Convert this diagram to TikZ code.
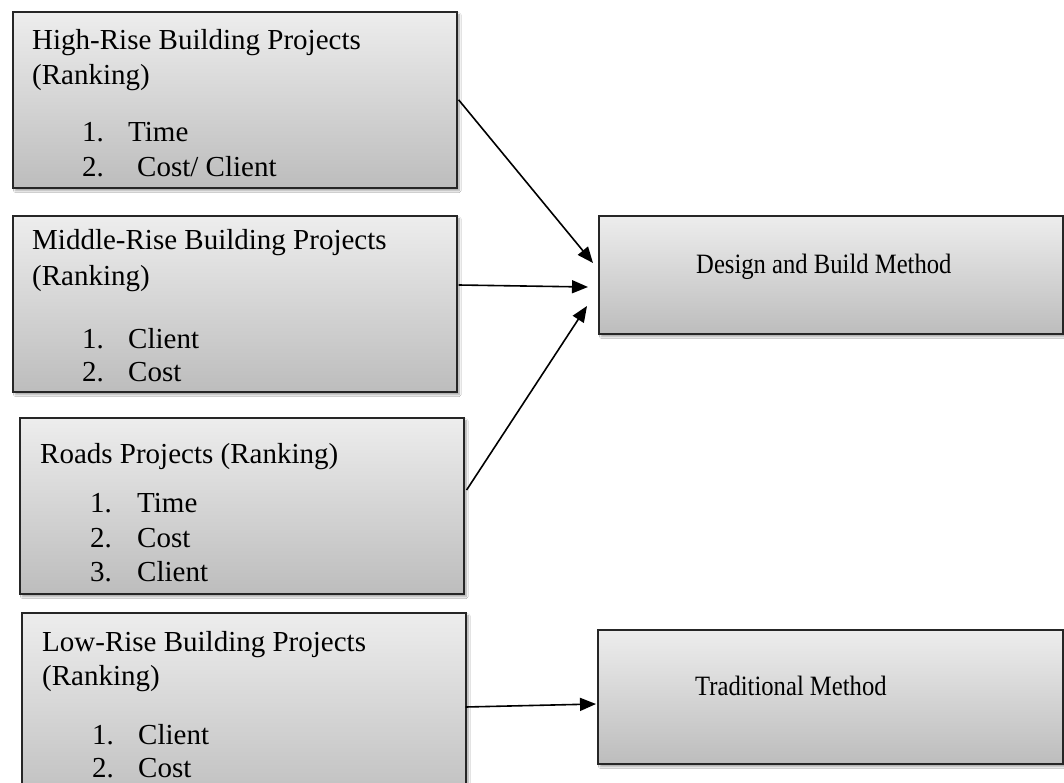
\documentclass[tikz,border=0pt]{standalone}
\usepackage{fontspec}
\setmainfont{Liberation Serif}
\usetikzlibrary{shadows.blur,arrows.meta,calc}
\tikzset{
  gbox/.style={draw=black!85, line width=1.6pt, rectangle, anchor=north west, inner sep=0pt,
    top color=black!7, bottom color=black!26,
    blur shadow={shadow xshift=2.5pt, shadow yshift=-3pt, shadow blur steps=6, shadow opacity=35}},
  txt/.style={anchor=base west, inner sep=0pt, font=\fontsize{29}{35}\selectfont},
  rtxt/.style={anchor=base west, inner sep=0pt, font=\fontsize{28}{34}\selectfont},
  arr/.style={line width=1.6pt, -{Triangle[length=16pt,width=13pt]}},
}
\begin{document}
\begin{tikzpicture}[x=1pt,y=-1pt]
\useasboundingbox (0,0) rectangle (1064,783);
\clip (0,0) rectangle (1064,783);
\fill[white] (0,0) rectangle (1064,783);
% boxes
\node[gbox, minimum width=444pt, minimum height=176pt] (b1) at (12,11) {};
\node[gbox, minimum width=444pt, minimum height=176pt] (b2) at (12,215) {};
\node[gbox, minimum width=444pt, minimum height=176pt] (b3) at (19,417) {};
\node[gbox, minimum width=444pt, minimum height=200pt] (b4) at (21,612) {};
\node[gbox, minimum width=464pt, minimum height=118pt] (d) at (598,215) {};
\node[gbox, minimum width=465pt, minimum height=134pt] (t) at (597,629) {};
% box 1 text
\node[txt] (b1a) at (32,50) {High-Rise Building Projects};
\node[txt] (b1b) at (32,85) {(Ranking)};
\node[txt] (b1c) at (82,142) {1.};
\node[txt] (b1d) at (128,142) {Time};
\node[txt] (b1e) at (82,177) {2.};
\node[txt] (b1f) at (137,177) {Cost/ Client};
% box 2 text
\node[txt] (b2a) at (32,250) {Middle-Rise Building Projects};
\node[txt] (b2b) at (32,285) {(Ranking)};
\node[txt] (b2c) at (82,348) {1.};
\node[txt] (b2d) at (128,348) {Client};
\node[txt] (b2e) at (82,381) {2.};
\node[txt] (b2f) at (128,381) {Cost};
% box 3 text
\node[txt] (b3a) at (40,463) {Roads Projects (Ranking)};
\node[txt] (b3b) at (90,512) {1.};
\node[txt] (b3c) at (137,512) {Time};
\node[txt] (b3d) at (90,547) {2.};
\node[txt] (b3e) at (137,547) {Cost};
\node[txt] (b3f) at (90,581) {3.};
\node[txt] (b3g) at (137,581) {Client};
% box 4 text
\node[txt] (b4a) at (42,651) {Low-Rise Building Projects};
\node[txt] (b4b) at (42,685) {(Ranking)};
\node[txt] (b4c) at (92,744) {1.};
\node[txt] (b4d) at (138,744) {Client};
\node[txt] (b4e) at (92,777) {2.};
\node[txt] (b4f) at (138,777) {Cost};
% right texts
\node[rtxt] (dt) at (696,273) {\scalebox{0.88}[1]{Design and Build Method}};
\node[rtxt] (tt) at (695,695) {\scalebox{0.88}[1]{Traditional Method}};
% arrow ends
\coordinate (e1) at (593,263);
\coordinate (e2) at (588,287);
\coordinate (e3) at (587,306);
\coordinate (e4) at (596,704);
\coordinate (s2) at ($(b2.north east)+(1,70)$);
\coordinate (s3) at ($(b3.north east)+(2,73)$);
\coordinate (s4) at ($(b4.north east)+(-1,95)$);
\draw[arr] ($(b1.east)+(1,0)$) -- (e1);
\draw[arr] (s2) -- (e2);
\draw[arr] (s3) -- (e3);
\draw[arr] (s4) -- (e4);
\end{tikzpicture}
\end{document}
